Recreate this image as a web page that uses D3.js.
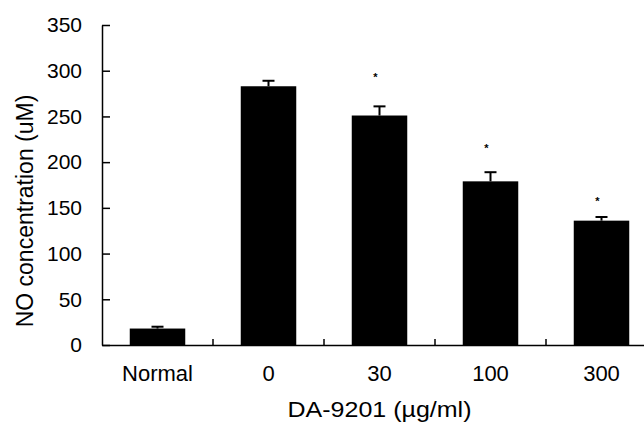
<!DOCTYPE html>
<html>
<head>
<meta charset="utf-8">
<script src="https://cdn.jsdelivr.net/npm/d3@7"></script>
<style>
  body { margin: 0; background: #fff; }
  text { font-family: "Liberation Sans", Arial, sans-serif; fill: #000; }
</style>
</head>
<body>
<svg id="chart" width="644" height="422"></svg>
<script>
// data
const categories = ["Normal", "0", "30", "100", "300"];
const values = [18, 283, 251, 179, 136];
const errors = [2, 6, 10, 10, 4];
const stars = [null, null, 295, 218, 160]; // y position (in uM) of the "*" marks
const yTicks = [0, 50, 100, 150, 200, 250, 300, 350];

const svg = d3.select("#chart");
const margin = { top: 25, left: 102 };
const width = 555;
const height = 320;

const g = svg.append("g")
  .attr("transform", `translate(${margin.left}, ${margin.top})`);

// Scales
const x = d3.scaleBand()
  .domain(categories)
  .range([0, width])
  .padding(0);
const y = d3.scaleLinear()
  .domain([0, 350])
  .range([height, 0]);

const barW = x.bandwidth() * 0.5;

// Bars
g.selectAll("rect.bar")
  .data(categories)
  .enter()
  .append("rect")
  .attr("class", "bar")
  .attr("x", (d) => x(d) + (x.bandwidth() - barW) / 2)
  .attr("y", (d, i) => y(values[i]))
  .attr("width", barW)
  .attr("height", (d, i) => y(0) - y(values[i]))
  .attr("fill", "#000");

// Error bars (upper only)
const errG = g.selectAll("g.err")
  .data(categories)
  .enter()
  .append("g")
  .attr("class", "err")
  .attr("transform", (d) => `translate(${x(d) + x.bandwidth() / 2}, 0)`);

errG.append("line")
  .attr("x1", 0)
  .attr("x2", 0)
  .attr("y1", (d, i) => y(values[i]))
  .attr("y2", (d, i) => y(values[i] + errors[i]))
  .attr("stroke", "#000")
  .attr("stroke-width", 2);

errG.append("line")
  .attr("x1", -6)
  .attr("x2", 6)
  .attr("y1", (d, i) => y(values[i] + errors[i]))
  .attr("y2", (d, i) => y(values[i] + errors[i]))
  .attr("stroke", "#000")
  .attr("stroke-width", 2);

// Significance marks
g.selectAll("text.star")
  .data(categories.filter((d, i) => stars[i] != null))
  .enter()
  .append("text")
  .attr("class", "star")
  .attr("x", (d) => x(d) + x.bandwidth() / 2 - 4)
  .attr("y", (d) => y(stars[categories.indexOf(d)]))
  .attr("dy", "0.55em")
  .attr("text-anchor", "middle")
  .style("font-size", "11px")
  .style("font-weight", "bold")
  .text("*");

// Axes
const yAxis = g.append("g")
  .call(d3.axisLeft(y)
    .tickValues(yTicks)
    .tickSizeInner(-8)
    .tickSizeOuter(0)
    .tickPadding(20));

const xAxis = g.append("g")
  .attr("transform", `translate(0, ${height})`)
  .call(d3.axisBottom(x)
    .tickSize(0)
    .tickPadding(20));

// small ticks between categories
xAxis.selectAll("line.sep")
  .data(categories.slice(1))
  .enter()
  .append("line")
  .attr("class", "sep")
  .attr("x1", (d) => x(d))
  .attr("x2", (d) => x(d))
  .attr("y1", 0)
  .attr("y2", -6)
  .attr("stroke", "#000")
  .attr("stroke-width", 1.5);

[yAxis, xAxis].forEach((a) => {
  a.select(".domain").attr("stroke", "#000").attr("stroke-width", 1.5);
  a.selectAll(".tick line").attr("stroke", "#000").attr("stroke-width", 1.5);
  a.selectAll("text")
    .style("font-family", '"Liberation Sans", Arial, sans-serif')
    .style("font-size", "21px")
    .attr("fill", "#000");
});
xAxis.selectAll(".tick text").style("font-size", "22px");

// Axis titles
svg.append("text")
  .attr("transform", "translate(33, 211) rotate(-90)")
  .attr("text-anchor", "middle")
  .style("font-size", "23px")
  .text("NO concentration (uM)");

svg.append("text")
  .attr("x", margin.left + width / 2)
  .attr("y", 417)
  .attr("text-anchor", "middle")
  .attr("textLength", 184)
  .attr("lengthAdjust", "spacingAndGlyphs")
  .style("font-size", "22px")
  .text("DA-9201 (\u00b5g/ml)");
</script>
</body>
</html>
